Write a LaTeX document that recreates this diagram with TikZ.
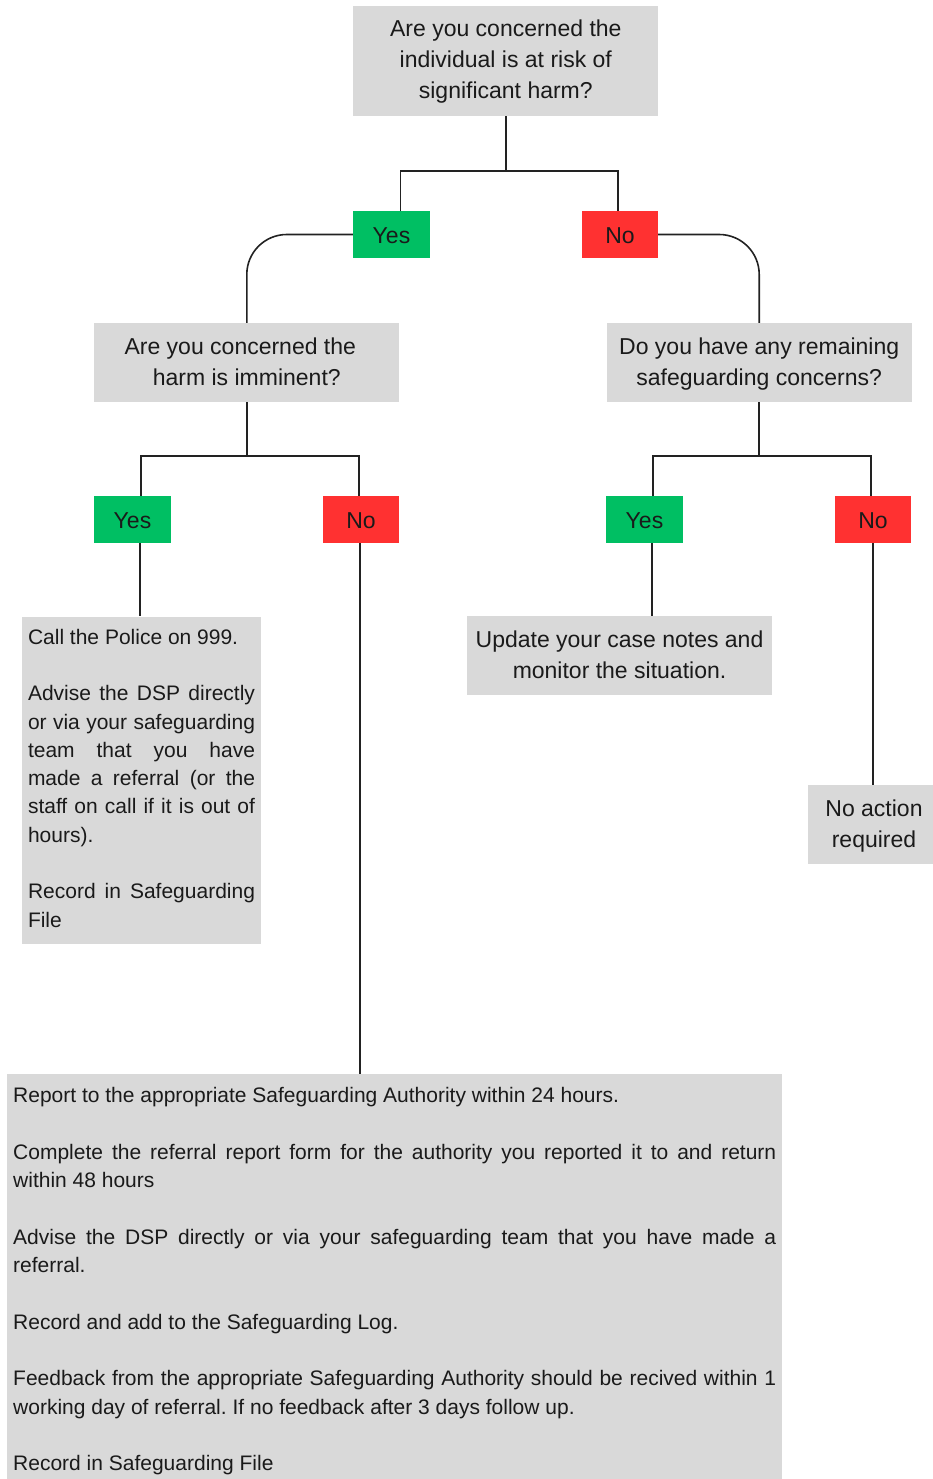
\documentclass[tikz,border=0pt]{standalone}
\usepackage{fontspec}
\setmainfont{Liberation Sans}
\usetikzlibrary{calc}
\definecolor{boxgrey}{RGB}{217,217,217}
\definecolor{yesgreen}{RGB}{0,191,99}
\definecolor{nored}{RGB}{255,49,49}
\definecolor{linecol}{RGB}{34,34,34}
\definecolor{txt}{RGB}{26,26,26}
\setlength\parindent{0pt}
\newcommand\mystrutB{\rule[-6.3pt]{0pt}{30pt}}
\newcommand\mystrutM{\rule[-5.7pt]{0pt}{25.4pt}}
\frenchspacing
\begin{document}
\begin{tikzpicture}[x=1pt,y=-1pt,
  every node/.style={text=txt, inner sep=0pt},
  big/.style={font=\fontsize{23}{31}\selectfont\frenchspacing},
  small/.style={font=\fontsize{21}{28.3}\selectfont\frenchspacing, execute at begin node=\strut, execute at end node=\strut},
  qbox/.style={big, fill=boxgrey, align=center, minimum width=305pt, minimum height=79pt},
  yesbox/.style={big, fill=yesgreen, minimum width=77pt, minimum height=47pt, execute at begin node=\mystrutB, execute at end node=\mystrutB},
  nobox/.style={big, fill=nored, minimum width=76pt, minimum height=47pt, execute at begin node=\mystrutB, execute at end node=\mystrutB},
  conn/.style={draw=linecol, line width=1.6pt},
]
\useasboundingbox (0,0) rectangle (932,1479);

\node[qbox, minimum height=110pt] (q1) at (505.8,61) {\mystrutM Are you concerned the\\individual is at risk of\\significant harm?\mystrutM};
\node[yesbox] (y1) at (391.5,234.5) {Yes};
\node[nobox] (n1) at (620,234.5) {No};
\node[qbox] (q2) at (246.8,362.5) {\mystrutM Are you concerned the\hspace*{13pt}\\harm is imminent?\mystrutM};
\node[qbox] (q3) at (759.2,362.5) {\mystrutM Do you have any remaining\\safeguarding concerns?\mystrutM};
\node[yesbox] (y2) at (132.5,519.5) {Yes};
\node[nobox] (n2) at (361,519.5) {No};
\node[yesbox] (y3) at (644.5,519.5) {Yes};
\node[nobox] (n3) at (873,519.5) {No};

\node[small, fill=boxgrey, text width=227pt, align=justify, inner xsep=6pt, minimum height=327pt] (a1) at (141.5,780)
 {Call the Police on 999.\\[28.3pt]
  Advise the DSP directly\linebreak or via your safeguarding\linebreak team that you have\linebreak made a referral (or the\linebreak staff on call if it is out of\linebreak hours).\\[28.3pt]
  Record in Safeguarding\linebreak File};
\node[qbox] (a2) at (619.5,655.5) {\mystrutM Update your case notes and\\monitor the situation.\mystrutM};
\node[big, fill=boxgrey, align=center, minimum width=132pt, minimum height=79pt] (a3) at (874,824.5) {\mystrutM No action\\required\mystrutM};
\node[small, fill=boxgrey, text width=763pt, align=justify, inner xsep=6pt, inner ysep=8.7pt, anchor=north west] (a4) at (7,1074)
 {Report to the appropriate Safeguarding Authority within 24 hours.\\[28.3pt]
  Complete the referral report form for the authority you reported it to and return\linebreak within 48 hours\\[28.3pt]
  Advise the DSP directly or via your safeguarding team that you have made a\linebreak referral.\\[28.3pt]
  Record and add to the Safeguarding Log.\\[28.3pt]
  Feedback from the appropriate Safeguarding Authority should be recived within 1\linebreak working day of referral. If no feedback after 3 days follow up.\\[28.3pt]
  Record in Safeguarding File};

\draw[conn] (q1.south) -- ++(0,55) -| ([xshift=9pt]y1.north);
\draw[conn] (q1.south) -- ++(0,55) -| ([xshift=-2pt]n1.north);
\draw[conn, rounded corners=40pt] (y1.west) -| (q2.north);
\draw[conn, rounded corners=40pt] (n1.east) -| (q3.north);
\draw[conn] (q2.south) -- ++(0,54) -| ([xshift=8.5pt]y2.north);
\draw[conn] (q2.south) -- ++(0,54) -| ([xshift=-2pt]n2.north);
\draw[conn] (q3.south) -- ++(0,54) -| ([xshift=8.5pt]y3.north);
\draw[conn] (q3.south) -- ++(0,54) -| ([xshift=-2pt]n3.north);

\coordinate (ly2) at ([xshift=7.5pt]y2.south);
\coordinate (ln2) at ([xshift=-1pt]n2.south);
\coordinate (ly3) at ([xshift=7.5pt]y3.south);
\coordinate (ln3) at (n3.south);
\draw[conn] (ly2) -- (ly2 |- a1.north);
\draw[conn] (ln2) -- (ln2 |- a4.north);
\draw[conn] (ly3) -- (ly3 |- a2.north);
\draw[conn] (ln3) -- (ln3 |- a3.north);
\end{tikzpicture}
\end{document}
